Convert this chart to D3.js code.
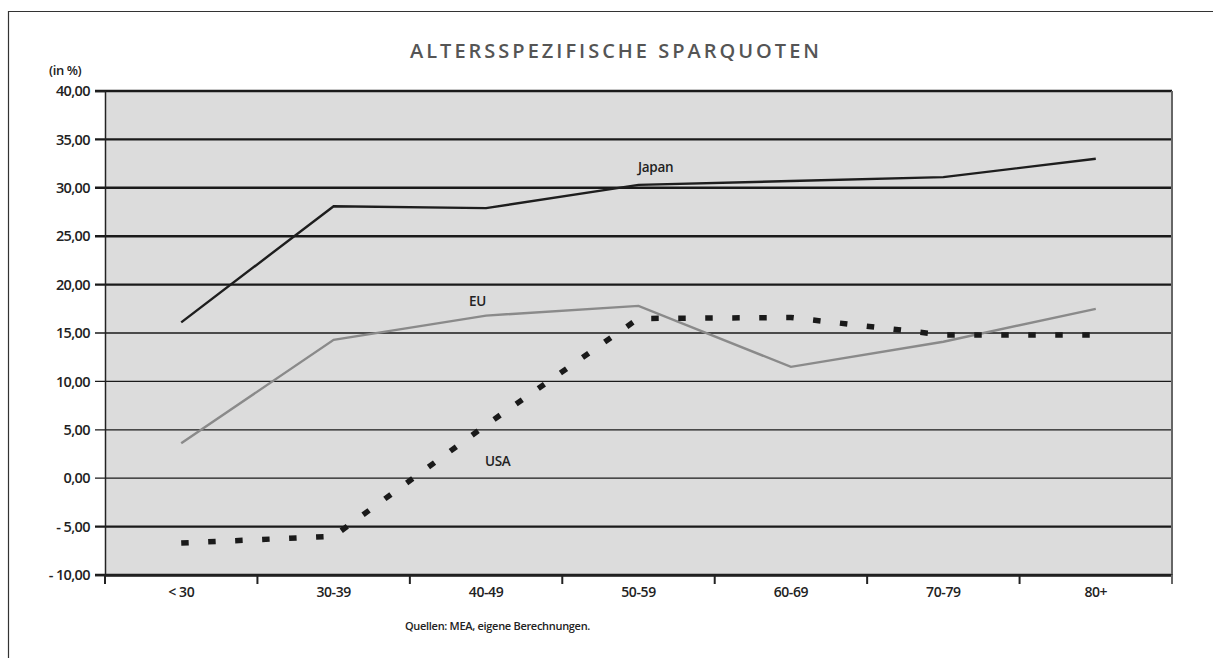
<!DOCTYPE html>
<html><head><meta charset="utf-8">
<script src="https://cdn.jsdelivr.net/npm/d3@7"></script>
<style>body{margin:0;background:#fff}svg{display:block}text{font-family:"Open Sans","Noto Sans",sans-serif}</style>
</head><body><svg id="c" width="1213" height="658"></svg>
<script>
const categories = ["< 30","30-39","40-49","50-59","60-69","70-79","80+"];
const japan = [16.1, 28.1, 27.9, 30.3, 30.7, 31.1, 33.0];
const eu    = [3.6, 14.3, 16.8, 17.8, 11.5, 14.1, 17.5];
const usa   = [-6.7, -6.0, 5.5, 16.5, 16.6, 14.8, 14.8];
const yTicks = [40,35,30,25,20,15,10,5,0,-5,-10];

const svg = d3.select("#c");
const L=105,R=1172,T=91,B=575;
const x = d3.scaleBand().domain(categories).range([L,R]);
const y = d3.scaleLinear().domain([-10,40]).range([B,T]);

// outer frame
svg.append("path").attr("d","M8.5,660 V11.5 H1220").attr("fill","none").attr("stroke","#333").attr("stroke-width",1.2);

// plot background
svg.append("rect").attr("x",L).attr("y",T).attr("width",R-L).attr("height",B-T).attr("fill","#dcdcdc");

// gridlines
const thick = v => (v>=20 || v<=-5) ? 2.4 : 1.3;
svg.append("g").selectAll("line").data(yTicks).join("line")
  .attr("x1",95).attr("x2",R).attr("y1",d=>y(d)).attr("y2",d=>y(d))
  .attr("stroke","#1a1a1a").attr("stroke-width",d=>thick(d));

// right edge
svg.append("line").attr("x1",R).attr("x2",R).attr("y1",T).attr("y2",B).attr("stroke","#666").attr("stroke-width",2);

// y axis
const fmt = v => (v<0 ? "- " + d3.format(".2f")(-v) : d3.format(".2f")(v)).replace(".",",");
const yAxis = d3.axisLeft(y).tickValues(yTicks).tickSize(10).tickFormat(fmt);
const gy = svg.append("g").attr("transform",`translate(${L},0)`).call(yAxis);
gy.select(".domain").attr("stroke","#222").attr("stroke-width",1.5);
gy.selectAll(".tick line").remove();
gy.selectAll("text").attr("font-size",14.5).attr("fill","#222").attr("font-weight",600).attr("x",-15).attr("letter-spacing","-0.6");

// x axis
const xAxis = d3.axisBottom(x).tickSize(0).tickPadding(12);
const gx = svg.append("g").attr("transform",`translate(0,${B})`).call(xAxis);
gx.select(".domain").attr("stroke","#222").attr("stroke-width",2.4);
gx.selectAll("text").attr("font-size",14).attr("fill","#222").attr("font-weight",600).attr("letter-spacing","-0.4");
const bounds = categories.map(c=>x(c)).concat([R]);
svg.append("g").selectAll("line").data(bounds).join("line")
  .attr("x1",d=>d).attr("x2",d=>d).attr("y1",B).attr("y2",B+9)
  .attr("stroke",(d,i)=>i===bounds.length-1?"#666":"#222").attr("stroke-width",2);

const line = d3.line().x((d,i)=>x(categories[i])+x.bandwidth()/2).y(d=>y(d));
svg.append("path").datum(eu).attr("d",line).attr("fill","none").attr("stroke","#8a8a8a").attr("stroke-width",2.4);
svg.append("path").datum(japan).attr("d",line).attr("fill","none").attr("stroke","#1e1e1e").attr("stroke-width",2.4);
svg.append("path").datum(usa).attr("d",line).attr("fill","none").attr("stroke","#1a1a1a").attr("stroke-width",5.5).attr("stroke-dasharray","7.5,19.5");

// series labels
const lab = (t,xx,yy)=>svg.append("text").attr("x",xx).attr("y",yy).attr("font-size",13.5).attr("font-weight",600).attr("fill","#222").attr("letter-spacing","-0.3").text(t);
lab("Japan",638,172);
lab("EU",469,306);
lab("USA",485,466);

// title
svg.append("text").attr("x",616).attr("y",58).attr("text-anchor","middle").attr("font-size",20).attr("letter-spacing","3").attr("fill","#555").attr("font-weight",600).text("ALTERSSPEZIFISCHE SPARQUOTEN");
svg.append("text").attr("x",49).attr("y",75).attr("font-size",13).attr("font-weight",600).attr("fill","#222").attr("letter-spacing","-0.4").text("(in %)");
svg.append("text").attr("x",405).attr("y",630).attr("font-size",11).attr("font-weight",600).attr("fill","#222").attr("letter-spacing","-0.3").text("Quellen: MEA, eigene Berechnungen.");
</script></body></html>
